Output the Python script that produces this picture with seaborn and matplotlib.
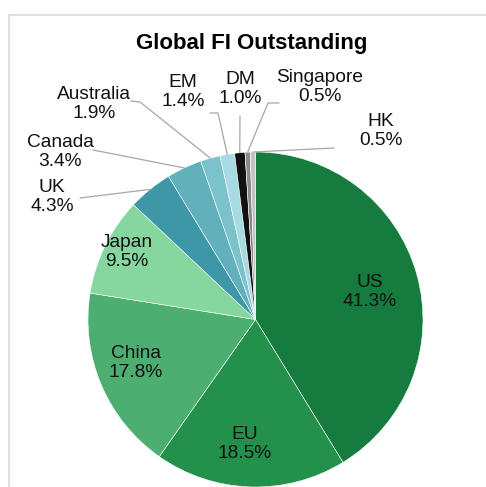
import numpy as np
import matplotlib
matplotlib.use("Agg")
import matplotlib.pyplot as plt
import seaborn as sns

# data
regions = ['US', 'EU', 'China', 'Japan', 'UK', 'Canada', 'Australia', 'EM', 'DM', 'Singapore', 'HK']
shares = [41.3, 18.5, 17.8, 9.5, 4.3, 3.4, 1.9, 1.4, 1.0, 0.5, 0.5]
colors = ['#167b3e', '#23904c', '#4caf71', '#86d6a0', '#3e97a6', '#62b0bc',
          '#7cc2cc', '#a6dbe3', '#111111', '#8a8a8a', '#c3c3c3']

sns.set_theme(style='white')
plt.rcParams['font.family'] = ['Liberation Sans', 'DejaVu Sans']

W, H = 486, 487
fig = plt.figure(figsize=(W / 100, H / 100), dpi=100)
ax = fig.add_axes([0, 0, 1, 1])

def py(y):
    # layout helper: pixel row from top -> data y
    return H - y

cx, cy, r = 255.5, py(319.5), 167.5
wedges, _ = ax.pie(shares, colors=colors, startangle=90, counterclock=False,
                   center=(cx, cy), radius=r, frame=True,
                   wedgeprops=dict(edgecolor='white', linewidth=0.4))
ax.set_xlim(0, W)
ax.set_ylim(0, H)
ax.set_aspect('equal')
ax.axis('off')

# chart frame (top and left edge visible)
ax.plot([9, W], [py(14.5), py(14.5)], color='#d9d9d9', lw=1.2, clip_on=False)
ax.plot([9, 9], [py(14.5), 0], color='#d9d9d9', lw=1.2, clip_on=False)

ax.text(252, py(44), 'Global FI Outstanding', ha='center', va='center',
        fontsize=16, fontweight='bold', color='#000000')

# label centres (pixels from top)
label_pos = {
    'US': (370, 292), 'EU': (245, 444), 'China': (136, 363), 'Japan': (127, 252),
    'UK': (52, 197), 'Canada': (60, 152), 'Australia': (94, 104), 'EM': (183, 92),
    'DM': (240, 89), 'Singapore': (320, 87), 'HK': (381, 131),
}
# leader lines: label-side points
leaders = {
    'UK': [(80, 198)],
    'Canada': [(93, 150)],
    'Australia': [(131, 101), (140, 102)],
    'EM': [(210, 113), (218, 113)],
    'DM': [(240, 116)],
    'Singapore': [(279, 103), (268, 103)],
    'HK': [(334, 148)],
}

for w, name, val in zip(wedges, regions, shares):
    x, y = label_pos[name]
    ax.text(x, py(y), f'{name}\n{val:.1f}%', ha='center', va='center',
            fontsize=13.8, color='#111111', linespacing=1.2)
    if name in leaders:
        mid = np.deg2rad((w.theta1 + w.theta2) / 2)
        ex = w.center[0] + w.r * np.cos(mid)
        ey = w.center[1] + w.r * np.sin(mid)
        pts = [(px, py(pyy)) for px, pyy in leaders[name]] + [(ex, ey)]
        xs, ys = zip(*pts)
        ax.plot(xs, ys, color='#a6a6a6', lw=0.9)

fig.savefig('out.png', dpi=100, facecolor='white')
